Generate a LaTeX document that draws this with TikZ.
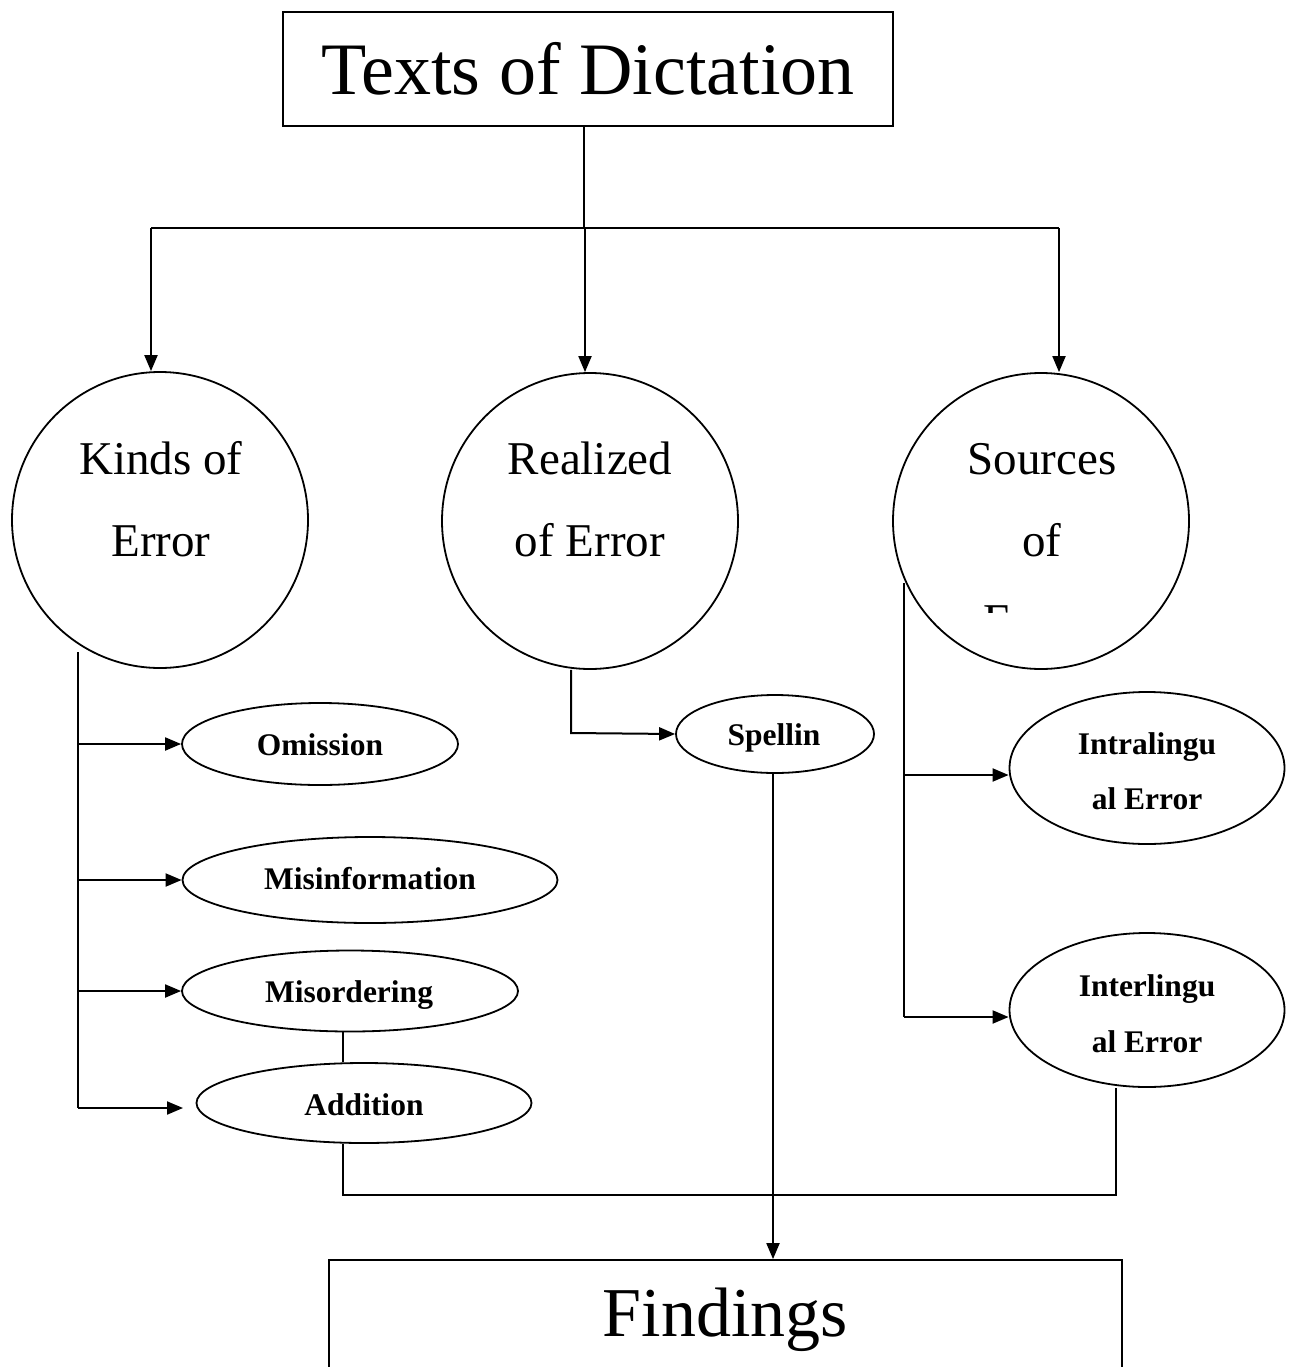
\documentclass[tikz,border=0pt]{standalone}
\usepackage{fontspec}
\setmainfont{Liberation Serif}
\usetikzlibrary{shapes.geometric,arrows.meta}
\begin{document}
\begin{tikzpicture}[x=1pt,y=-1pt,
  conn/.style={line width=2pt},
  arr/.style={conn,-{Triangle[length=16pt,width=13pt]}},
  bubble/.style={draw,circle,line width=1.8pt,minimum size=296pt,inner sep=0pt},
  oval/.style={draw,ellipse,line width=1.8pt,inner sep=0pt},
  big/.style={font=\fontsize{47}{47}\selectfont,anchor=base,inner sep=0pt},
  small/.style={font=\fontsize{31.5}{31.5}\selectfont\bfseries,anchor=base,inner sep=0pt}]
\clip (0,0) rectangle (1297,1367);
\fill[white] (0,0) rectangle (1297,1367);

% title box
\node[draw,line width=1.5pt,minimum width=610pt,minimum height=114pt,inner sep=0pt,
      font=\fontsize{74}{74}\selectfont] (title) at (588,69) {Texts of Dictation};

% circles
\node[bubble] (kinds) at (160,520) {};
\node[bubble] (realized) at (590,521) {};
\node[bubble] (sources) at (1041,521) {};
\node[big] (k1) at (161,474) {Kinds of};
\node[big] (k2) at (161,556) {Error};
\node[big] (r1t) at (590,474) {Realized};
\node[big] (r2t) at (590,556) {of Error};
\node[big] (s1t) at (1042,474) {Sources};
\node[big] (s2t) at (1042,556) {of};
\begin{scope}
  \clip (890,580) rectangle (1200,612);
  \node[big] (s3t) at (1033,636) {Error};
\end{scope}

% ellipses
\node[oval,minimum width=276pt,minimum height=82pt] (omission) at (320,744) {};
\node[small] (omt) at (320,755) {Omission};
\node[oval,minimum width=375pt,minimum height=86pt] (misinfo) at (370,880) {};
\node[small] (mit) at (370,889) {Misinformation};
\node[oval,minimum width=336pt,minimum height=81pt] (misord) at (350,991) {};
\node[small] (mot) at (349,1002) {Misordering};
\node[oval,minimum width=335pt,minimum height=80pt] (addition) at (364,1103) {};
\node[small] (adt) at (364,1115) {Addition};
\node[oval,minimum width=198pt,minimum height=78pt] (spell) at (775,734) {};
\node[small] (spt) at (774,745) {Spellin};
\node[oval,minimum width=275pt,minimum height=152pt] (intra) at (1147,768) {};
\node[small] (int1) at (1147,754) {Intralingu};
\node[small] (int2) at (1147,809) {al Error};
\node[oval,minimum width=275pt,minimum height=154pt] (inter) at (1147,1010) {};
\node[small] (itr1) at (1147,996) {Interlingu};
\node[small] (itr2) at (1147,1052) {al Error};

% findings box
\node[draw,line width=1.8pt,minimum width=793pt,minimum height=120pt,inner sep=0pt,
      font=\fontsize{70}{70}\selectfont] (findings) at (725.5,1320) {Findings};

% top connectors
\coordinate (jn) at (584,228);
\coordinate (jL) at (151,228);
\coordinate (jM) at (585,228);
\coordinate (jR) at (1059,228);
\draw[line width=1.5pt] (title.south -| jn) -- (jn);
\draw[conn] (jL) -- (jR);
\draw[arr] (jL) -- (jL |- kinds.north);
\draw[arr] (jM) -- (jM |- realized.north);
\draw[arr] (jR) -- (jR |- sources.north);

% kinds trunk
\coordinate (kt) at (78,652);
\coordinate (kb) at (78,1108);
\draw[conn] (kt) -- (kb);
\draw[arr] (omission.west -| kt) -- (omission.west);
\draw[arr] (misinfo.west -| kt) -- (misinfo.west);
\draw[arr] (misord.west -| kt) -- (misord.west);
\draw[arr] (kb) -- ++(105,0) coordinate (addarrow);

% misordering to addition and bottom link
\coordinate (b1) at (343,1195);
\coordinate (b2) at (1116,1195);
\draw[line width=1.5pt] (misord.south -| b1) -- (addition.north -| b1);
\draw[line width=1.5pt] (addition.south -| b1) -- (b1) -- (b2) -- (inter.south -| b2);

% realized
\coordinate (rc) at (571,733);
\draw[arr] (realized.south -| rc) -- (rc) -- (spell.west);
\coordinate (sx) at (773,0);
\draw[arr] (spell.south -| sx) -- (findings.north -| sx);

% sources trunk
\coordinate (s0) at (904,583);
\coordinate (sa) at (904,775);
\coordinate (sb) at (904,1017);
\draw[conn] (s0) -- (sb);
\draw[arr] (sa) -- (sa -| intra.west);
\draw[arr] (sb) -- (sb -| inter.west);
\end{tikzpicture}
\end{document}
